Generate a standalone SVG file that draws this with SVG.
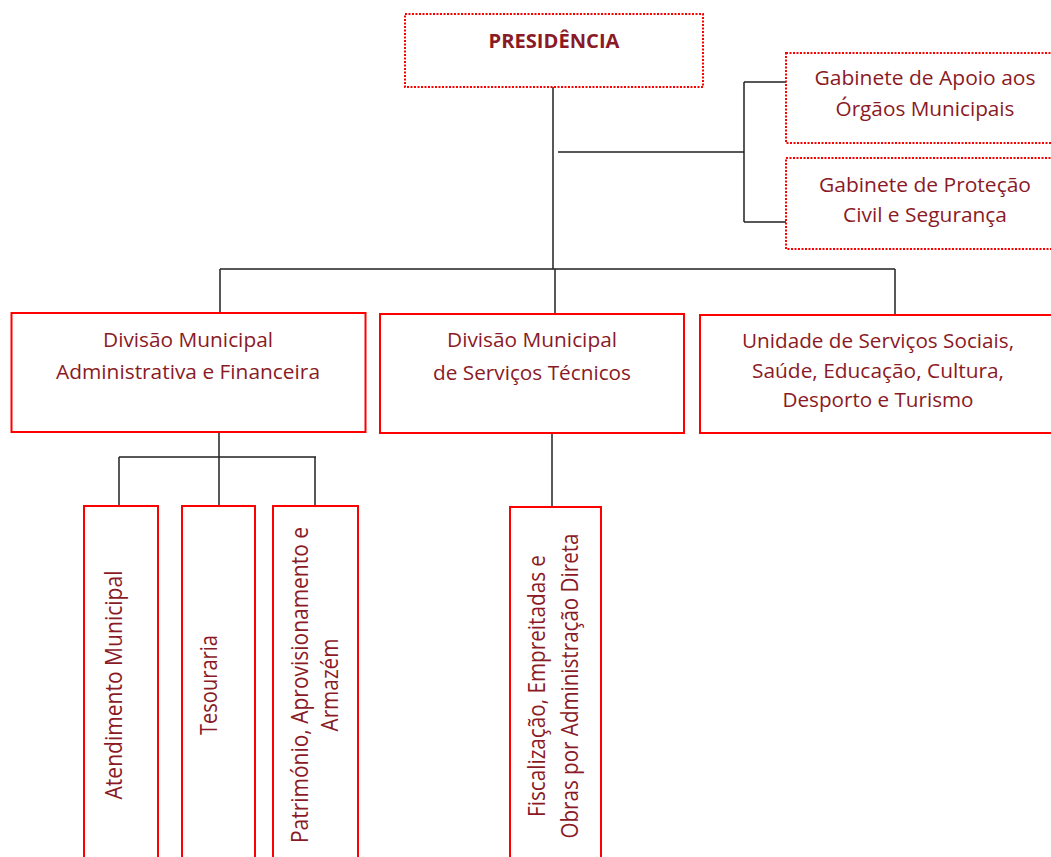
<svg xmlns="http://www.w3.org/2000/svg" width="1051" height="857" viewBox="0 0 1051 857">
<style>
.bg{fill:#fff}
.box{fill:#fff;stroke:#ff0000;stroke-width:2}
.dot{fill:#fff;stroke:#ff0000;stroke-width:2;stroke-dasharray:2 1.5}
.t{font-family:"Open Sans","Noto Sans",sans-serif;fill:#8a1a26;text-anchor:middle}
.h{font-size:20px}
.v{font-size:23.5px}
.b{font-size:19.5px;font-weight:bold}
.c{fill:none;stroke:#222;stroke-width:1.5}
</style>
<rect class="bg" x="0" y="0" width="1051" height="857"/>
<g id="connectors">
<path class="c" d="M553,87 V269 M558,152 H744 M744,82 V222 M744,82 H786 M744,222 H786"/>
<path class="c" d="M220,269 H895 M220,269 V313 M555,269 V314 M895,269 V315"/>
<path class="c" d="M219,432 V457 M119,457 H316 M119,457 V506 M219,457 V506 M315,457 V505"/>
<path class="c" d="M552,433 V507"/>
</g>
<g id="presidencia">
<rect class="dot" x="405" y="14" width="298" height="73"/>
<text class="t b" x="554" y="48" textLength="131" lengthAdjust="spacingAndGlyphs">PRESIDÊNCIA</text>
</g>
<g id="gabinete-apoio">
<rect class="dot" x="786" y="53" width="280" height="90"/>
<text class="t h" x="925" y="85" textLength="221" lengthAdjust="spacingAndGlyphs">Gabinete de Apoio aos</text>
<text class="t h" x="925" y="116" textLength="179" lengthAdjust="spacingAndGlyphs">Órgãos Municipais</text>
</g>
<g id="gabinete-protecao">
<rect class="dot" x="786" y="158" width="280" height="91"/>
<text class="t h" x="925" y="192" textLength="212" lengthAdjust="spacingAndGlyphs">Gabinete de Proteção</text>
<text class="t h" x="925" y="222" textLength="164" lengthAdjust="spacingAndGlyphs">Civil e Segurança</text>
</g>
<g id="div-admin">
<rect class="box" x="11.5" y="313" width="354" height="119"/>
<text class="t h" x="188" y="347" textLength="170" lengthAdjust="spacingAndGlyphs">Divisão Municipal</text>
<text class="t h" x="188" y="379" textLength="264" lengthAdjust="spacingAndGlyphs">Administrativa e Financeira</text>
</g>
<g id="div-tecnicos">
<rect class="box" x="380" y="314" width="304" height="119"/>
<text class="t h" x="532" y="347" textLength="170" lengthAdjust="spacingAndGlyphs">Divisão Municipal</text>
<text class="t h" x="532" y="380" textLength="198" lengthAdjust="spacingAndGlyphs">de Serviços Técnicos</text>
</g>
<g id="unidade-sociais">
<rect class="box" x="700" y="315" width="370" height="118"/>
<text class="t h" x="878" y="348" textLength="272" lengthAdjust="spacingAndGlyphs">Unidade de Serviços Sociais,</text>
<text class="t h" x="878" y="378" textLength="252" lengthAdjust="spacingAndGlyphs">Saúde, Educação, Cultura,</text>
<text class="t h" x="878" y="407" textLength="191" lengthAdjust="spacingAndGlyphs">Desporto e Turismo</text>
</g>
<g id="atendimento">
<rect class="box" x="84" y="506" width="74" height="370"/>
<text class="t v" transform="translate(122,685) rotate(-90)" x="0" y="0" textLength="229" lengthAdjust="spacingAndGlyphs">Atendimento Municipal</text>
</g>
<g id="tesouraria">
<rect class="box" x="182" y="506" width="73" height="370"/>
<text class="t v" transform="translate(217,685) rotate(-90)" x="0" y="0" textLength="100" lengthAdjust="spacingAndGlyphs">Tesouraria</text>
</g>
<g id="patrimonio">
<rect class="box" x="273" y="506" width="85" height="370"/>
<text class="t v" transform="translate(308,685) rotate(-90)" x="0" y="0" textLength="316" lengthAdjust="spacingAndGlyphs">Património, Aprovisionamento e</text>
<text class="t v" transform="translate(338,685) rotate(-90)" x="0" y="0" textLength="93" lengthAdjust="spacingAndGlyphs">Armazém</text>
</g>
<g id="fiscalizacao">
<rect class="box" x="510" y="507" width="91" height="370"/>
<text class="t v" transform="translate(545,686) rotate(-90)" x="0" y="0" textLength="262" lengthAdjust="spacingAndGlyphs">Fiscalização, Empreitadas e</text>
<text class="t v" transform="translate(578,686) rotate(-90)" x="0" y="0" textLength="305" lengthAdjust="spacingAndGlyphs">Obras por Administração Direta</text>
</g>
</svg>
